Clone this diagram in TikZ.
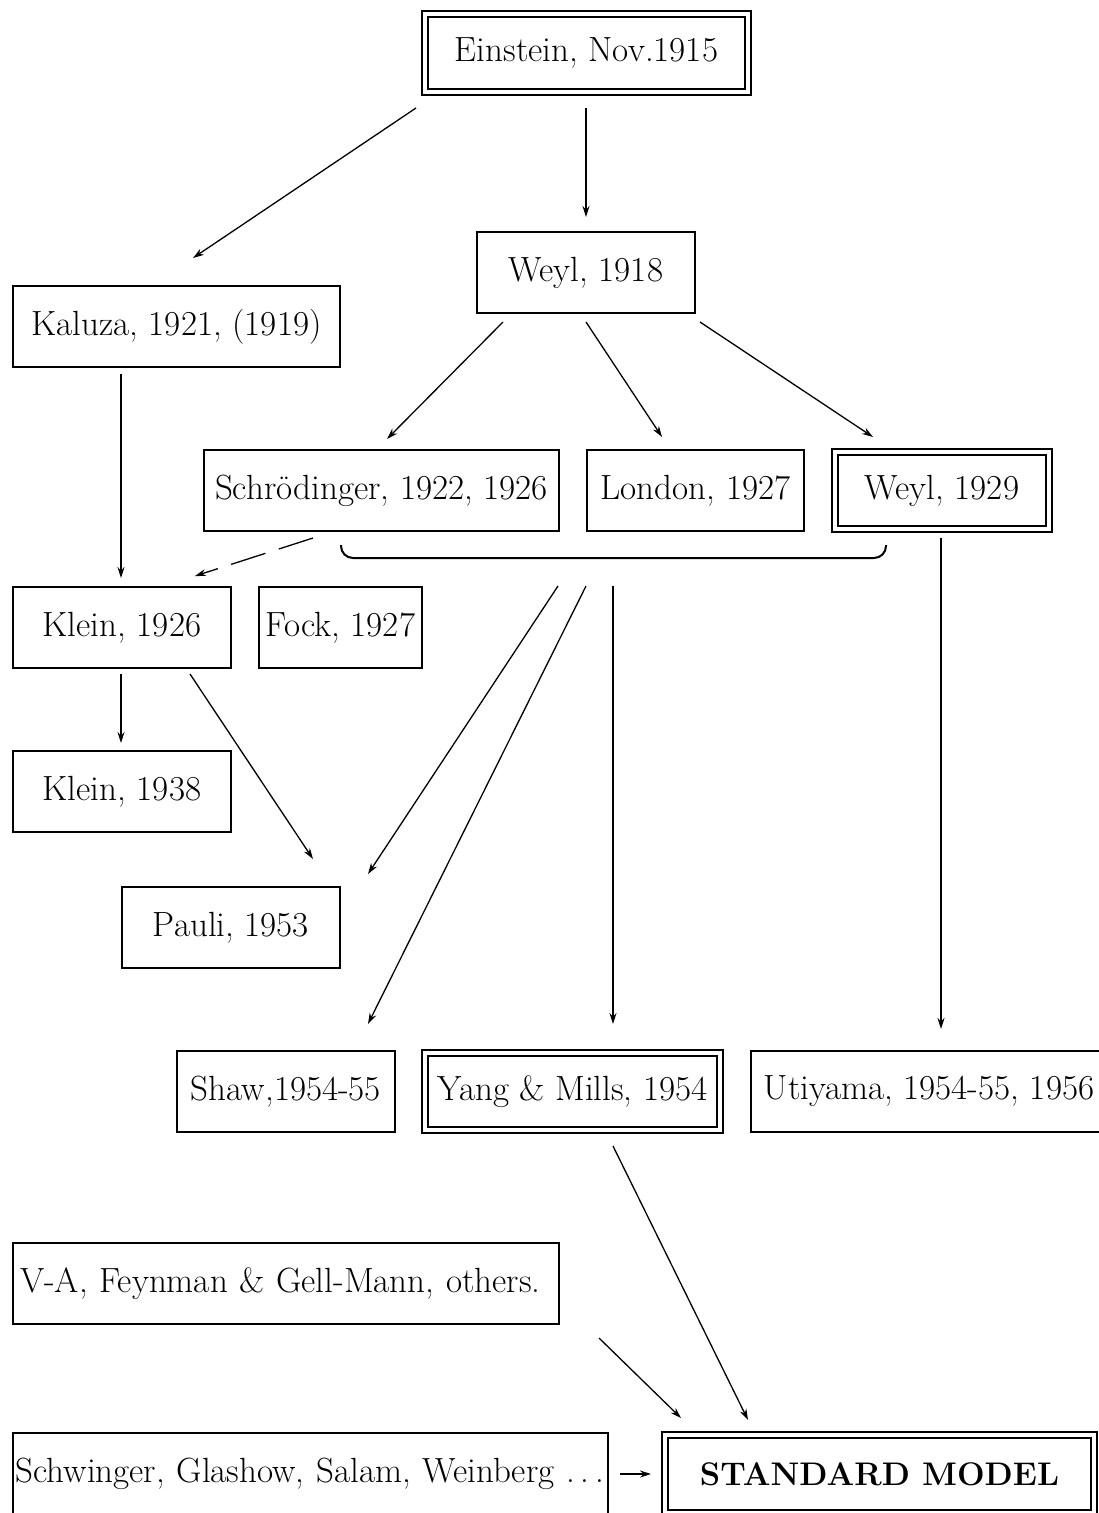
\documentclass[tikz,border=0pt]{standalone}
\usetikzlibrary{arrows.meta}
\begin{document}
\begin{tikzpicture}[x=1pt,y=-1pt,
  lbl/.style={font=\fontsize{35}{42}\selectfont, inner sep=0pt, anchor=center},
  box/.style={lbl, draw, line width=2.3pt},
  dbox/.style={lbl, draw, line width=2pt, double, double distance=4pt},
  arr/.style={line width=1.3pt, -{Stealth[length=11pt,width=7pt]}},
]
\useasboundingbox (0,0) rectangle (1099,1513);
% boxes
\node[dbox, minimum width=323pt, minimum height=78pt] (ein) at (586.5,53) {Einstein, Nov.1915};
\node[box, minimum width=218pt, minimum height=81pt] (w18) at (586,272.5) {Weyl, 1918};
\node[box, minimum width=327pt, minimum height=81pt] (kal) at (176.5,326.5) {Kaluza, 1921, (1919)};
\node[box, minimum width=355pt, minimum height=81pt] (sch) at (381.5,490.5) {Schr\"odinger, 1922, 1926};
\node[box, minimum width=217pt, minimum height=81pt] (lon) at (695.5,490.5) {London, 1927};
\node[dbox, minimum width=214pt, minimum height=77pt] (w29) at (942,490.5) {Weyl, 1929};
\node[box, minimum width=218pt, minimum height=81pt] (k26) at (122,627.5) {Klein, 1926};
\node[box, minimum width=163pt, minimum height=81pt] (fock) at (340.5,627.5) {Fock, 1927};
\node[box, minimum width=218pt, minimum height=81pt] (k38) at (122,791.5) {Klein, 1938};
\node[box, minimum width=218pt, minimum height=81pt] (pauli) at (231,927.5) {Pauli, 1953};
\node[box, minimum width=218pt, minimum height=81pt] (shaw) at (286,1091.5) {Shaw,1954-55};
\node[dbox, minimum width=295pt, minimum height=77pt] (ym) at (572.5,1091.5) {Yang \& Mills, 1954};
\node[box, minimum width=356pt, minimum height=81pt] (uti) at (929,1091.5) {Utiyama, 1954-55, 1956};
\node[box, minimum width=546pt, minimum height=81pt, align=left, text width=532pt] (va) at (286,1283.5) {V-A, Feynman \& Gell-Mann, others.};
\node[box, minimum width=595pt, minimum height=82pt, align=left, text width=590pt] (swg) at (310.5,1474) {Schwinger, Glashow, Salam, Weinberg .\,.\,.};
\node[dbox, minimum width=429pt, minimum height=78pt, font=\fontsize{32.7}{40}\selectfont\bfseries] (sm) at (879.5,1474) {STANDARD MODEL};
% connector end points
\coordinate (a1) at (416,108); \coordinate (b1) at (193,258);
\coordinate (a2) at (586,108); \coordinate (b2) at (586,217);
\coordinate (a3) at (503,322); \coordinate (b3) at (387,439);
\coordinate (a4) at (586,322); \coordinate (b4) at (662,437);
\coordinate (a5) at (700,322); \coordinate (b5) at (873,437);
\coordinate (a6) at (121,374); \coordinate (b6) at (121,578);
\coordinate (a7) at (313,538); \coordinate (b7) at (195,576);
\coordinate (c1) at (341,545); \coordinate (c2) at (341,558);
\coordinate (c3) at (886,558); \coordinate (c4) at (886,545);
\coordinate (a8) at (558,586); \coordinate (b8) at (368,874);
\coordinate (a9) at (586,586); \coordinate (b9) at (368,1024);
\coordinate (a10) at (613,586); \coordinate (b10) at (613,1024);
\coordinate (a11) at (941,538); \coordinate (b11) at (941,1029);
\coordinate (a12) at (121,674); \coordinate (b12) at (121,743);
\coordinate (a13) at (190,674); \coordinate (b13) at (313,859);
\coordinate (a14) at (613,1146); \coordinate (b14) at (748,1420);
\coordinate (a15) at (599,1338); \coordinate (b15) at (681,1418);
\coordinate (a16) at (620,1474); \coordinate (b16) at (651,1474);
% connectors
\draw[arr] (a1) -- (b1);
\draw[arr] (a2) -- (b2);
\draw[arr] (a3) -- (b3);
\draw[arr] (a4) -- (b4);
\draw[arr] (a5) -- (b5);
\draw[arr] (a6) -- (b6);
\draw[arr, dash pattern=on 36pt off 14pt] (a7) -- (b7);
\draw[line width=2pt, rounded corners=12pt] (c1) -- (c2) -- (c3) -- (c4);
\draw[arr] (a8) -- (b8);
\draw[arr] (a9) -- (b9);
\draw[arr] (a10) -- (b10);
\draw[arr, line width=2.5pt] (a11) -- (b11);
\draw[arr] (a12) -- (b12);
\draw[arr] (a13) -- (b13);
\draw[arr] (a14) -- (b14);
\draw[arr] (a15) -- (b15);
\draw[arr] (a16) -- (b16);
\end{tikzpicture}
\end{document}
